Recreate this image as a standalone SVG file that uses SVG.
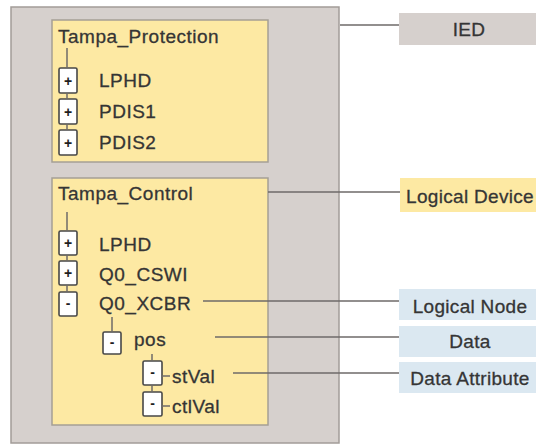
<svg xmlns="http://www.w3.org/2000/svg" width="536" height="446" viewBox="0 0 536 446">
<style>
text{font-family:"Liberation Sans",Arial,sans-serif;fill:#353535}
.t{font-size:19px;letter-spacing:0.5px;stroke:#353535;stroke-width:0.3}
.lbl{font-size:19px;letter-spacing:0.3px;text-anchor:middle;stroke:#353535;stroke-width:0.3}
.sym{font-size:14px;font-weight:bold;text-anchor:middle;fill:#1e1e1e}
.outer{fill:#d6d0cd;stroke:#a29c98;stroke-width:1.5}
.yel{fill:#fde9a3;stroke:#a59f95;stroke-width:1.5}
.blue{fill:#dbe8f1}
.gray{fill:#d6d0cd}
.box{fill:#fff;stroke:#474747;stroke-width:1.6}
.con line{stroke:#6e6a68;stroke-width:1.5}
</style>
<g id="ied">
<rect class="outer" x="11" y="7" width="328" height="436"/>
</g>
<g id="tampa_protection">
<rect class="yel" x="52" y="20" width="216" height="142"/>
<text class="t" x="58" y="43">Tampa_Protection</text>
<rect class="box" x="59" y="68" width="18" height="25" rx="1.5"/><text class="sym" x="68" y="86">+</text>
<rect class="box" x="59" y="99" width="18" height="25" rx="1.5"/><text class="sym" x="68" y="117">+</text>
<rect class="box" x="59" y="130" width="18" height="25" rx="1.5"/><text class="sym" x="68" y="148">+</text>
<text class="t" x="99" y="87">LPHD</text>
<text class="t" x="99" y="118">PDIS1</text>
<text class="t" x="99" y="149">PDIS2</text>
</g>
<g id="tampa_control">
<rect class="yel" x="52" y="178" width="216" height="247"/>
<text class="t" x="58" y="200">Tampa_Control</text>
<rect class="box" x="59" y="231" width="18" height="24" rx="1.5"/><text class="sym" x="68" y="248">+</text>
<rect class="box" x="59" y="261" width="18" height="24" rx="1.5"/><text class="sym" x="68" y="278">+</text>
<rect class="box" x="59" y="292" width="18" height="24" rx="1.5"/><text class="sym" x="68" y="308">-</text>
<text class="t" x="99" y="251">LPHD</text>
<text class="t" x="99" y="281">Q0_CSWI</text>
<text class="t" x="99" y="310">Q0_XCBR</text>
<rect class="box" x="103" y="332" width="18" height="22" rx="1.5"/><text class="sym" x="112" y="347">-</text>
<text class="t" x="134" y="346">pos</text>
<rect class="box" x="143" y="361" width="19" height="24" rx="1.5"/><text class="sym" x="152.5" y="377">-</text>
<text class="t" x="172" y="383">stVal</text>
<rect class="box" x="143" y="392" width="19" height="24" rx="1.5"/><text class="sym" x="152.5" y="408">-</text>
<text class="t" x="172" y="413">ctlVal</text>
</g>
<g id="label_ied">
<rect class="gray" x="399" y="13" width="137" height="32"/>
<text class="lbl" x="469" y="36">IED</text>
</g>
<g id="label_logical_device">
<rect fill="#fde9a3" x="400" y="178" width="136" height="34"/>
<text class="lbl" x="470" y="203">Logical Device</text>
</g>
<g id="label_logical_node">
<rect class="blue" x="399" y="289" width="137" height="31"/>
<text class="lbl" x="470" y="313">Logical Node</text>
</g>
<g id="label_data">
<rect class="blue" x="399" y="326" width="137" height="31"/>
<text class="lbl" x="470" y="348">Data</text>
</g>
<g id="label_data_attribute">
<rect class="blue" x="399" y="362" width="137" height="31"/>
<text class="lbl" x="470" y="385">Data Attribute</text>
</g>
<g id="connectors" class="con">
<line x1="67" y1="48" x2="67" y2="68"/>
<line x1="67" y1="93" x2="67" y2="99"/>
<line x1="67" y1="124" x2="67" y2="130"/>
<line x1="67" y1="212" x2="67" y2="231"/>
<line x1="67" y1="255" x2="67" y2="261"/>
<line x1="67" y1="285" x2="67" y2="292"/>
<line x1="112" y1="317" x2="112" y2="332"/>
<line x1="152" y1="354" x2="152" y2="361"/>
<line x1="152" y1="385" x2="152" y2="392"/>
<line x1="162" y1="376" x2="170" y2="376"/>
<line x1="162" y1="406" x2="170" y2="406"/>
<line x1="340" y1="25" x2="399" y2="25"/>
<line x1="268" y1="192" x2="400" y2="192"/>
<line x1="203" y1="301" x2="399" y2="301"/>
<line x1="215" y1="337" x2="399" y2="337"/>
<line x1="233" y1="373" x2="399" y2="373"/>
</g>
</svg>
